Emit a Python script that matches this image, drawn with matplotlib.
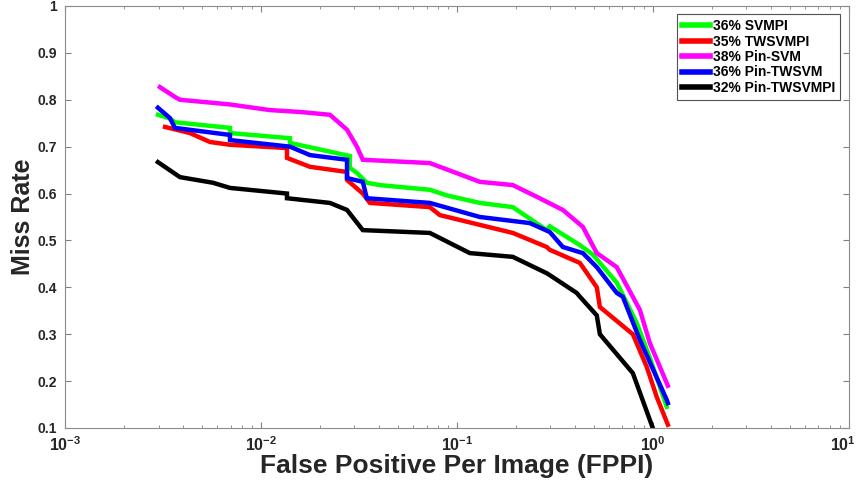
import matplotlib
matplotlib.use("Agg")
import matplotlib.pyplot as plt
import matplotlib.transforms as mtransforms
from matplotlib.ticker import LogLocator, NullFormatter, FixedLocator

plt.rcParams['font.family'] = ['Liberation Sans', 'DejaVu Sans']
plt.rcParams['mathtext.fontset'] = 'custom'
plt.rcParams['mathtext.rm'] = 'Liberation Sans:bold'
plt.rcParams['mathtext.bf'] = 'Liberation Sans:bold'
plt.rcParams['mathtext.default'] = 'bf'

labels = ["36% SVMPI", "35% TWSVMPI", "38% Pin-SVM", "36% Pin-TWSVM", "32% Pin-TWSVMPI"]
colors = ["#00ff00", "#ff0000", "#ff00ff", "#0000ff", "#000000"]

svmpi_x = [0.00298, 0.00343, 0.00364, 0.00695, 0.00695, 0.01406, 0.01406, 0.0284, 0.0284, 0.0309, 0.0347, 0.0405, 0.0728, 0.0889, 0.131, 0.193, 0.2877, 0.298, 0.4246, 0.494, 0.655, 0.828, 0.966, 1.178]
svmpi_y = [0.768, 0.760, 0.752, 0.740, 0.729, 0.718, 0.708, 0.680, 0.655, 0.644, 0.623, 0.618, 0.608, 0.596, 0.580, 0.571, 0.522, 0.530, 0.490, 0.470, 0.410, 0.324, 0.250, 0.145]

twsvmpi_x = [0.00324, 0.00434, 0.00549, 0.00695, 0.01358, 0.01358, 0.0178, 0.0275, 0.0275, 0.0331, 0.0360, 0.0728, 0.0819, 0.193, 0.2877, 0.298, 0.4246, 0.4395, 0.518, 0.537, 0.791, 0.932, 1.048, 1.194]
twsvmpi_y = [0.742, 0.729, 0.710, 0.704, 0.697, 0.676, 0.657, 0.646, 0.629, 0.600, 0.580, 0.571, 0.554, 0.516, 0.486, 0.480, 0.452, 0.443, 0.400, 0.358, 0.300, 0.230, 0.166, 0.107]

pinsvm_x = [0.00305, 0.00364, 0.00386, 0.00695, 0.0111, 0.0158, 0.0225, 0.0275, 0.0309, 0.0331, 0.0728, 0.131, 0.193, 0.256, 0.3475, 0.4395, 0.518, 0.655, 0.859, 0.966, 1.194]
pinsvm_y = [0.827, 0.806, 0.800, 0.790, 0.778, 0.774, 0.768, 0.736, 0.700, 0.672, 0.665, 0.625, 0.618, 0.593, 0.565, 0.529, 0.473, 0.443, 0.352, 0.281, 0.190]

pintwsvm_x = [0.00298, 0.00343, 0.00364, 0.00695, 0.00695, 0.01406, 0.0178, 0.0275, 0.0275, 0.0331, 0.0347, 0.0728, 0.131, 0.2357, 0.298, 0.3475, 0.4395, 0.518, 0.655, 0.703, 0.859, 1.178, 1.194]
pintwsvm_y = [0.783, 0.761, 0.740, 0.725, 0.714, 0.700, 0.682, 0.672, 0.633, 0.625, 0.590, 0.580, 0.550, 0.537, 0.518, 0.486, 0.473, 0.443, 0.388, 0.380, 0.288, 0.160, 0.153]

pintwsvmpi_x = [0.00298, 0.00386, 0.00569, 0.00695, 0.01358, 0.01358, 0.0225, 0.0275, 0.0331, 0.0728, 0.1164, 0.193, 0.2877, 0.298, 0.409, 0.4246, 0.518, 0.537, 0.791, 1.0]
pintwsvmpi_y = [0.667, 0.635, 0.623, 0.612, 0.600, 0.590, 0.580, 0.565, 0.522, 0.516, 0.473, 0.465, 0.430, 0.426, 0.388, 0.380, 0.340, 0.300, 0.217, 0.100]

series_x = [svmpi_x, twsvmpi_x, pinsvm_x, pintwsvm_x, pintwsvmpi_x]
series_y = [svmpi_y, twsvmpi_y, pinsvm_y, pintwsvm_y, pintwsvmpi_y]

y_ticks = [0.1, 0.2, 0.3, 0.4, 0.5, 0.6, 0.7, 0.8, 0.9, 1.0]
y_ticklabels = ["0.1", "0.2", "0.3", "0.4", "0.5", "0.6", "0.7", "0.8", "0.9", "1"]
x_ticks = [1e-3, 1e-2, 1e-1, 1, 10]
x_ticklabels = [r"$10^{-3}$", r"$10^{-2}$", r"$10^{-1}$", r"$10^{0}$", r"$10^{1}$"]

fig = plt.figure(figsize=(8.59, 4.83), dpi=100)
ax = fig.add_axes([0.0757, 0.1139, 0.9123, 0.8737])

for xs, ys, c, lab in zip(series_x, series_y, colors, labels):
    ax.plot(xs, ys, color=c, lw=3.2, label=lab, solid_joinstyle='miter')

ax.set_xscale('log')
ax.set_xlim(1e-3, 10)
ax.set_ylim(0.1, 1.0)
ax.set_yticks(y_ticks)
ax.set_yticklabels(y_ticklabels)
ax.xaxis.set_major_locator(FixedLocator(x_ticks))
ax.set_xticklabels(x_ticklabels)
ax.xaxis.set_minor_locator(LogLocator(base=10, subs=range(2, 10)))
ax.xaxis.set_minor_formatter(NullFormatter())

ax.tick_params(which='both', direction='in', top=True, right=True, colors='#808080', labelcolor='#262626')
ax.tick_params(which='major', length=4, labelsize=10, pad=6)
ax.tick_params(axis='x', which='major', labelsize=11.5, pad=5)
ax.tick_params(which='minor', length=2.5)
for lab in ax.get_yticklabels():
    lab.set_fontweight('bold')
for sp in ax.spines.values():
    sp.set_color('#8c8c8c')
    sp.set_linewidth(0.8)

# nudge the last x tick label left so it stays inside the figure
last = ax.get_xticklabels()[-1]
last.set_transform(last.get_transform() + mtransforms.ScaledTranslation(-6 / 100, 0, fig.dpi_scale_trans))

ax.set_xlabel("False Positive Per Image (FPPI)", fontsize=19, fontweight='bold', color='#262626')
ax.xaxis.set_label_coords(0.5, -0.062)
ax.set_ylabel("Miss Rate", fontsize=18, fontweight='bold', color='#262626')
ax.yaxis.set_label_coords(-0.038, 0.5)

leg = ax.legend(loc='upper right', bbox_to_anchor=(0.9945, 0.99), prop={'weight': 'bold', 'size': 10},
                frameon=True, fancybox=False, edgecolor='#262626', handlelength=2.0,
                handletextpad=0.25, labelspacing=0.1, borderpad=0.35, borderaxespad=0.3)
leg.get_frame().set_linewidth(0.8)
for line in leg.get_lines():
    line.set_linewidth(4)

fig.savefig("out.png", dpi=100)
